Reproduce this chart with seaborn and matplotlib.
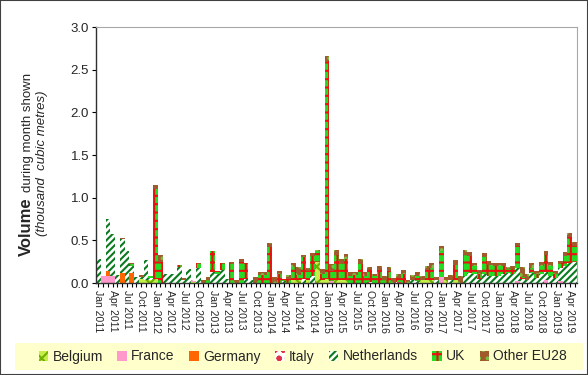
import numpy as np
import pandas as pd
import matplotlib
matplotlib.use("Agg")
import matplotlib.pyplot as plt
import seaborn as sns
from matplotlib.patches import Patch, Rectangle

# ---------------- data ----------------
months = pd.date_range("2011-01-01", "2019-05-01", freq="MS")
month_labels = [d.strftime("%b %Y") for d in months]
tick_labels = [lab if d.month in (1, 4, 7, 10) else "" for d, lab in zip(months, month_labels)]

countries = ["Belgium", "France", "Germany", "Italy", "Netherlands", "UK", "Other EU28"]

belgium = [0, 0, 0, 0, 0, 0, 0, 0, 0, 0.05, 0.03, 0.04,
           0.05, 0, 0, 0, 0, 0, 0, 0, 0.01, 0, 0, 0,
           0, 0, 0, 0, 0, 0, 0, 0, 0, 0, 0, 0,
           0, 0, 0, 0, 0, 0.04, 0.03, 0, 0.04, 0, 0.25, 0.04,
           0.05, 0, 0.03, 0.03, 0.03, 0, 0, 0, 0, 0, 0, 0,
           0, 0, 0, 0, 0, 0, 0, 0, 0.04, 0.03, 0.03, 0,
           0, 0.03, 0, 0.03, 0, 0, 0, 0, 0, 0, 0, 0,
           0, 0, 0, 0, 0, 0, 0, 0, 0, 0, 0, 0,
           0, 0, 0, 0, 0]
france = [0, 0.08, 0.08, 0.08, 0, 0, 0, 0, 0, 0, 0, 0,
          0, 0, 0, 0, 0, 0, 0, 0, 0.01, 0, 0, 0,
          0, 0, 0, 0, 0, 0, 0, 0, 0, 0, 0, 0,
          0, 0, 0, 0, 0, 0, 0, 0, 0, 0, 0, 0,
          0, 0.02, 0, 0, 0, 0, 0, 0, 0, 0, 0, 0,
          0, 0, 0, 0, 0, 0, 0, 0, 0, 0, 0, 0,
          0.07, 0, 0, 0, 0, 0, 0, 0, 0, 0, 0, 0,
          0, 0, 0, 0, 0.02, 0, 0, 0, 0, 0, 0.03, 0,
          0, 0.02, 0, 0, 0]
germany = [0, 0, 0.06, 0, 0, 0.12, 0, 0.12, 0, 0, 0, 0] + [0] * 89
italy = [0, 0, 0, 0, 0, 0, 0, 0, 0, 0, 0, 0,
         0, 0, 0, 0, 0, 0, 0, 0, 0.02, 0, 0, 0,
         0, 0, 0, 0, 0, 0, 0, 0, 0, 0, 0, 0,
         0, 0, 0, 0, 0, 0, 0, 0, 0, 0, 0, 0,
         0, 0, 0, 0, 0, 0, 0, 0, 0, 0.01, 0, 0,
         0, 0, 0, 0.01, 0, 0, 0, 0, 0, 0, 0, 0,
         0, 0, 0, 0, 0, 0, 0, 0, 0, 0, 0, 0,
         0, 0, 0, 0, 0, 0, 0, 0, 0, 0, 0, 0,
         0, 0, 0, 0, 0]
netherlands = [0.28, 0, 0.61, 0.50, 0.09, 0.39, 0.38, 0.08, 0.07, 0.02, 0.24, 0.02,
               0, 0, 0.10, 0.11, 0.10, 0.19, 0.03, 0.16, 0, 0.17, 0, 0,
               0.13, 0.10, 0.15, 0.05, 0, 0, 0, 0.05, 0.04, 0, 0, 0,
               0, 0, 0, 0.02, 0, 0, 0, 0.05, 0, 0.08, 0, 0,
               0, 0, 0, 0, 0, 0, 0, 0, 0, 0, 0, 0,
               0, 0, 0, 0, 0, 0, 0.04, 0.02, 0, 0, 0, 0.035,
               0, 0, 0.03, 0, 0, 0.08, 0.12, 0.10, 0.05, 0.10, 0.08, 0.08,
               0.08, 0.10, 0.12, 0.10, 0.16, 0.05, 0.03, 0.12, 0.06, 0.10, 0.10, 0.08,
               0.06, 0.16, 0.20, 0.24, 0.25]
uk = [0, 0, 0, 0, 0, 0, 0, 0.02, 0, 0, 0, 0.02,
      1.05, 0.25, 0, 0, 0, 0.02, 0, 0, 0, 0.06, 0, 0.04,
      0.25, 0.04, 0.08, 0, 0.23, 0, 0.25, 0.18, 0, 0, 0.09, 0.09,
      0.42, 0, 0.10, 0.03, 0.05, 0.15, 0.06, 0.25, 0.10, 0.24, 0.12, 0.06,
      2.55, 0.12, 0.30, 0.20, 0.25, 0.08, 0.09, 0.22, 0.08, 0.14, 0.08, 0.15,
      0.04, 0.14, 0, 0.05, 0.10, 0, 0, 0.06, 0, 0.12, 0.15, 0,
      0.30, 0, 0, 0.18, 0, 0.25, 0.20, 0.10, 0.06, 0.20, 0.13, 0.12,
      0.12, 0.10, 0.04, 0.06, 0.25, 0.02, 0, 0.06, 0.04, 0.10, 0.20, 0.12,
      0.04, 0.05, 0.12, 0.30, 0.18]
other_eu28 = [0, 0, 0, 0, 0, 0.02, 0, 0.01, 0, 0.02, 0, 0,
              0.05, 0.08, 0, 0, 0, 0, 0.03, 0, 0, 0, 0.03, 0.03,
              0, 0, 0, 0, 0.02, 0.03, 0.03, 0, 0, 0.07, 0.04, 0.04,
              0.05, 0.07, 0.04, 0, 0.04, 0.05, 0.10, 0.03, 0.03, 0.03, 0.02, 0.06,
              0.06, 0.08, 0.06, 0.05, 0.06, 0.045, 0.035, 0.06, 0.045, 0.04, 0.03, 0.05,
              0.04, 0.05, 0.06, 0.05, 0.05, 0.035, 0.05, 0.045, 0.04, 0.05, 0.05, 0.04,
              0.06, 0.045, 0.06, 0.06, 0.08, 0.06, 0.04, 0.04, 0.04, 0.05, 0.05, 0.04,
              0.04, 0.04, 0.03, 0.04, 0.04, 0.12, 0.08, 0.05, 0.04, 0.05, 0.04, 0.05,
              0.04, 0.03, 0.04, 0.05, 0.05]

series = [belgium, france, germany, italy, netherlands, uk, other_eu28]

# ---------------- styles ----------------
styles = {
    "Belgium":     dict(fc="#C6EE4A", hc="#6FB000", hatch="xx"),
    "France":      dict(fc="#FF99CC", hc="#FF99CC", hatch=None),
    "Germany":     dict(fc="#FF6600", hc="#FF6600", hatch=None),
    "Italy":       dict(fc="#FFFFFF", hc="#E0304A", hatch="oo"),
    "Netherlands": dict(fc="#FFFFFF", hc="#0A7A1E", hatch="/////"),
    "UK":          dict(fc="#22DD22", hc="#E81010", hatch="++"),
    "Other EU28":  dict(fc="#A05A2C", hc="#7CC040", hatch=".."),
}

df = pd.DataFrame({"month": month_labels})
for name, vals in zip(countries, series):
    df[name] = vals
cum = df[countries].cumsum(axis=1)

sns.set_theme(style="white")
plt.rcParams["font.family"] = ["Liberation Sans", "DejaVu Sans"]
plt.rcParams["hatch.linewidth"] = 1.5

fig = plt.figure(figsize=(5.88, 3.75), dpi=100)
ax = fig.add_axes([96 / 588, 1 - 283 / 375, (577 - 96) / 588, (283 - 27) / 375])

# overlay stacked bars: draw cumulative totals from top layer down
for name in countries[::-1]:
    st = styles[name]
    sns.barplot(x=df["month"], y=cum[name], color=st["fc"], saturation=1,
                width=1.0, errorbar=None, ax=ax, linewidth=0,
                edgecolor=st["hc"], hatch=st["hatch"])

ax.set_xlim(-0.5, len(months) - 0.5)
ax.set_ylim(0, 3.0)
ax.set_yticks(np.arange(0, 3.01, 0.5))
ax.set_yticklabels([f"{v:.1f}" for v in np.arange(0, 3.01, 0.5)], fontsize=9.5)
ax.set_xticks(range(len(months)))
ax.set_xticklabels(tick_labels, rotation=-90, fontsize=7.5, ha="center", va="top")
ax.tick_params(axis="both", which="both", bottom=True, left=True, direction="out",
               length=3, width=0.8, color="#000000", pad=2)
ax.set_xlabel("")
ax.set_ylabel("")
for s in ["left", "bottom"]:
    ax.spines[s].set_color("#303030")
    ax.spines[s].set_linewidth(1.0)
for s in ["top", "right"]:
    ax.spines[s].set_color("#A8A8A8")
    ax.spines[s].set_linewidth(0.8)

# y axis title
fig.text(26.5 / 588, 1 - 256 / 375, "Volume", rotation=90, fontsize=12,
         fontweight="bold", ha="center", va="bottom")
fig.text(28 / 588, 1 - 192 / 375, "during month shown", rotation=90,
         fontsize=9.5, ha="center", va="bottom")
fig.text(42 / 588, 1 - 163 / 375, "(thousand  cubic metres)", rotation=90,
         fontsize=9.5, fontstyle="italic", ha="center", va="center")

# legend background
fig.patches.append(Rectangle((15 / 588, 1 - 370 / 375), (583 - 15) / 588, 27 / 375,
                             transform=fig.transFigure, facecolor="#FFFFCC",
                             edgecolor="none", zorder=0))
handles = []
for name in countries:
    st = styles[name]
    h = Patch(facecolor=st["fc"], edgecolor=st["hc"], hatch=st["hatch"], linewidth=0)
    handles.append(h)
leg = fig.legend(handles, countries, loc="center",
                 bbox_to_anchor=(36 / 588, 1 - 370 / 375, (570 - 36) / 588, 27 / 375),
                 mode="expand", ncol=7, frameon=False,
                 handlelength=0.7, handleheight=0.7, handletextpad=0.3,
                 borderaxespad=0, fontsize=10, borderpad=0.2)

fig.patches.append(Rectangle((0, 0), 1, 1, transform=fig.transFigure, fill=False,
                             edgecolor="#404040", linewidth=1.5))

fig.savefig("out.png", dpi=100)
